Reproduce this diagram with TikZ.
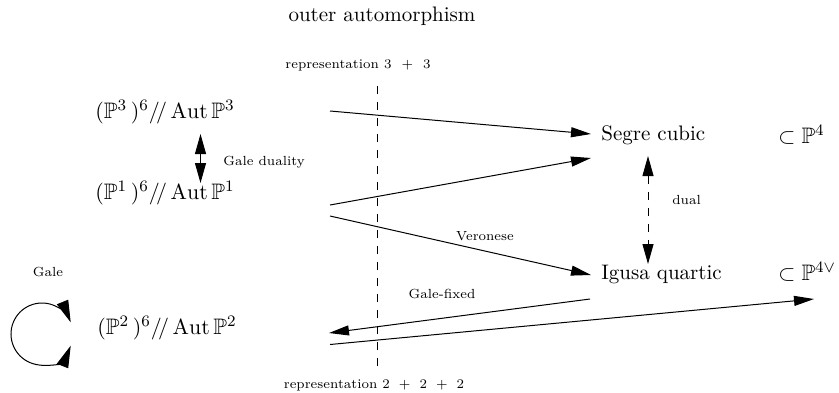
\documentclass[tikz,border=0pt]{standalone}
\usepackage{amsmath,amssymb}
\usetikzlibrary{arrows.meta}
\begin{document}
\begin{tikzpicture}[x=0.5pt,y=-0.5pt,
  big/.style={font=\fontsize{10.5}{12}\selectfont, inner sep=0pt},
  mbig/.style={font=\fontsize{11.2}{13}\selectfont, inner sep=0pt},
  lbl/.style={font=\fontsize{6.6}{8}\selectfont, inner sep=0pt},
  tip/.style={line width=0.5pt, -{Triangle[length=10pt,width=5pt]}},
  dtip/.style={line width=0.5pt, {Triangle[length=10pt,width=5.5pt]}-{Triangle[length=10pt,width=5.5pt]}},
  ctip/.style={line width=0.5pt, {Triangle[length=11pt,width=6pt]}-{Triangle[length=11pt,width=6pt]}},
  dsh/.style={dash pattern=on 4pt off 4pt}]
\path[use as bounding box] (0,0) rectangle (839,392);

% texts
\node[big] (outer) at (382,16) {outer automorphism};
\node[lbl] (rep33) at (358,65) {representation 3\hspace{5pt}+\hspace{5pt}3};
\node[lbl] (rep222) at (374,385) {representation 2\hspace{4.5pt}+\hspace{4.5pt}2\hspace{4.5pt}+\hspace{4.5pt}2};

\node[mbig,anchor=west] (p3) at (95,112) {$(\mathbb{P}^3\,)^6 /\!/ \operatorname{Aut}\mathbb{P}^3$};
\node[mbig,anchor=west] (p1) at (95,193) {$(\mathbb{P}^1\,)^6 /\!/ \operatorname{Aut}\mathbb{P}^1$};
\node[mbig,anchor=west] (p2) at (97,328) {$(\mathbb{P}^2\,)^6 /\!/ \operatorname{Aut}\mathbb{P}^2$};

\node[big,anchor=west] (segre) at (601,135) {Segre cubic};
\node[big,anchor=west] (igusa) at (601,274) {Igusa quartic};
\node[mbig,anchor=west] (sp4) at (778,135) {$\subset\mathbb{P}^4$};
\node[mbig,anchor=west] (sp4v) at (778,272) {$\subset\mathbb{P}^{4\vee}$};

\node[lbl,anchor=west] (galed) at (223,162) {Gale duality};
\node[lbl] (gale) at (48,272) {Gale};
\node[lbl,anchor=west] (dual) at (672,200) {dual};
\node[lbl] (ver) at (485,236) {Veronese};
\node[lbl] (galef) at (442,294) {Gale-fixed};

% arrow end points
\coordinate (a1s) at (330,111);   \coordinate (a1e) at (591,134);
\coordinate (a2s) at (330,205);   \coordinate (a2e) at (591,158);
\coordinate (a3s) at (330,216);   \coordinate (a3e) at (591,275);
\coordinate (a4s) at (590,299);   \coordinate (a4e) at (329,333);
\coordinate (a5s) at (330,344.5); \coordinate (a5e) at (814,299);
\coordinate (vt) at (377.5,86);   \coordinate (vb) at (377.5,370);
\coordinate (dt) at (648,156);    \coordinate (db) at (648,264);
\coordinate (gt) at (200.5,134);  \coordinate (gb) at (200.5,183);
\coordinate (cc) at (42,334);

\draw[tip] (a1s) -- (a1e);
\draw[tip] (a2s) -- (a2e);
\draw[tip] (a3s) -- (a3e);
\draw[tip] (a4s) -- (a4e);
\draw[tip] (a5s) -- (a5e);
\draw[line width=0.5pt,dsh] (vt) -- (vb);
\draw[dtip,dsh] (dt) -- (db);
\draw[dtip] (gt) -- (gb);
\draw[ctip] ([shift={(22:31)}]cc) arc[start angle=22,end angle=338,radius=31];
\end{tikzpicture}
\end{document}
